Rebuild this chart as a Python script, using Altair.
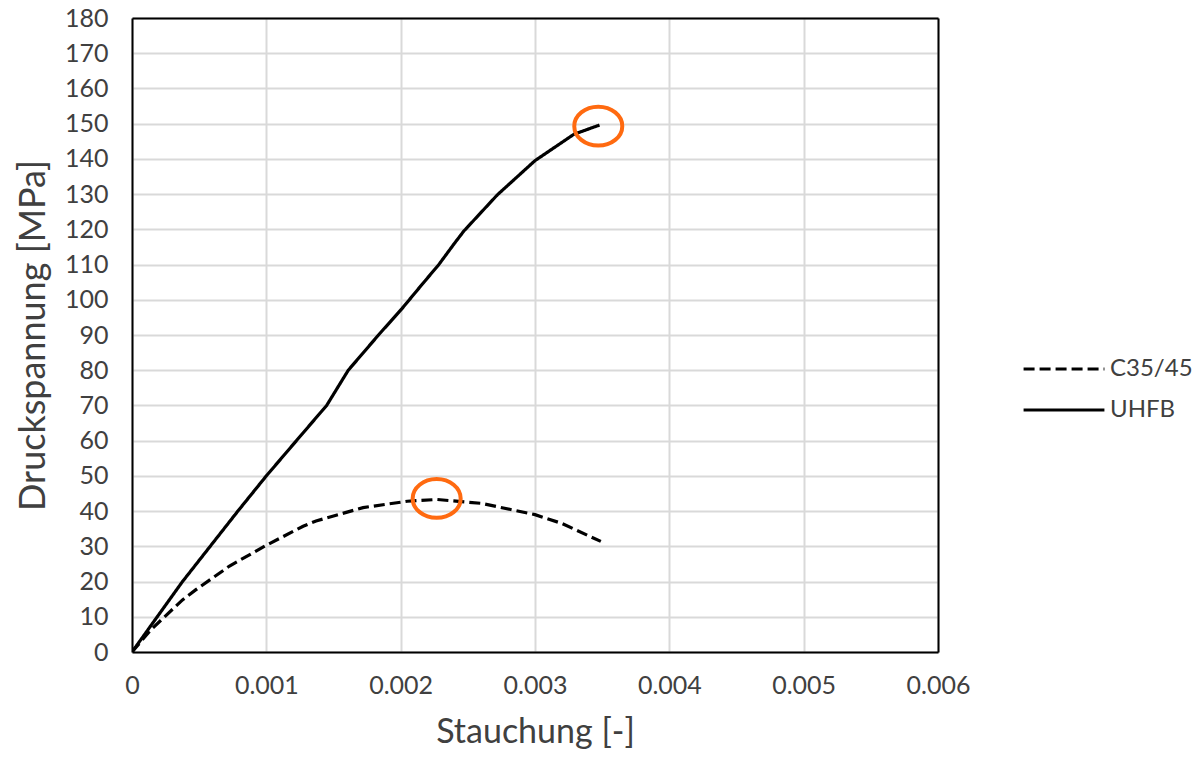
import altair as alt
import pandas as pd

# --- data ---
uhfb_x = [0, 0.000376, 0.000788, 0.001, 0.001224, 0.001449, 0.00161, 0.001835,
          0.00201, 0.002147, 0.002284, 0.0024, 0.00247, 0.00272, 0.003, 0.00329, 0.00348]
uhfb_y = [0, 20, 40, 50, 60, 70, 80, 90,
          97.5, 103.8, 110, 116, 119.5, 129.8, 139.5, 147, 149.6]

c35_x = [0, 0.00014, 0.000376, 0.000476, 0.000726, 0.001, 0.001274, 0.00137,
         0.00172, 0.00205, 0.00227, 0.0026, 0.003, 0.0032, 0.00349]
c35_y = [0, 6.3, 14.8, 17.7, 24.4, 30.3, 35.7, 37.2,
         41.0, 42.8, 43.3, 42.2, 39.0, 36.5, 31.4]

series_names = ["C35/45", "UHFB"]

marker_x = [0.002268, 0.003471]
marker_y = [43.6, 149.3]

x_ticks = [0, 0.001, 0.002, 0.003, 0.004, 0.005, 0.006]
y_ticks = list(range(0, 190, 10))

FONT = "Lato"
TEXT = "#404040"

rows = []
for i, (x, y) in enumerate(zip(c35_x, c35_y)):
    rows.append({"s": series_names[0], "x": x, "y": y, "o": i})
for i, (x, y) in enumerate(zip(uhfb_x, uhfb_y)):
    rows.append({"s": series_names[1], "x": x, "y": y, "o": i})
df = pd.DataFrame(rows)
mk = pd.DataFrame({"x": marker_x, "y": marker_y})

xscale = alt.Scale(domain=[0, 0.006], nice=False)
yscale = alt.Scale(domain=[0, 180], nice=False)

xaxis = alt.Axis(values=x_ticks, title="Stauchung [-]",
                 labelExpr="datum.value == 0 ? '0' : format(datum.value, '.3f')",
                 labelFont=FONT, labelFontSize=25, labelColor=TEXT, labelPadding=21,
                 labelOverlap=False, labelFlush=False,
                 titleFont=FONT, titleFontSize=34, titleFontWeight="normal", titleColor=TEXT,
                 titlePadding=17, tickSize=0, ticks=False,
                 domain=True, domainColor="black", domainWidth=2,
                 gridColor="#d9d9d9", gridWidth=2)
yaxis = alt.Axis(values=y_ticks, title="Druckspannung [MPa]",
                 labelFont=FONT, labelFontSize=25, labelColor=TEXT, labelPadding=24,
                 labelOverlap=False, labelFlush=False,
                 titleFont=FONT, titleFontSize=36, titleFontWeight="normal", titleColor=TEXT,
                 titlePadding=12, tickSize=0, ticks=False,
                 domain=True, domainColor="black", domainWidth=2,
                 gridColor="#d9d9d9", gridWidth=2)

lines = alt.Chart(df).mark_line(strokeWidth=3.2, color="black", clip=True).encode(
    x=alt.X("x:Q", scale=xscale, axis=xaxis),
    y=alt.Y("y:Q", scale=yscale, axis=yaxis),
    order="o:Q",
    strokeDash=alt.StrokeDash(
        "s:N",
        scale=alt.Scale(domain=series_names, range=[[11, 5], [1, 0]]),
        legend=alt.Legend(
            title=None, orient="none", legendX=903, legendY=322,
            symbolType="M -1.47 0 L 1.47 0", symbolSize=3025,
            symbolStrokeColor="black", symbolStrokeWidth=3,
            labelFont=FONT, labelFontSize=24, labelColor=TEXT,
            labelOffset=17, rowPadding=0, padding=0,
        ),
    ),
)

frame_x = alt.Axis(orient="top", labels=False, ticks=False, grid=False, title=None,
                   domain=True, domainColor="black", domainWidth=2)
frame_y = alt.Axis(orient="right", labels=False, ticks=False, grid=False, title=None,
                   domain=True, domainColor="black", domainWidth=2)

ellipse = "M -1 0 A 1 0.81 0 1 1 1 0 A 1 0.81 0 1 1 -1 0 Z"
markers = alt.Chart(mk).mark_point(
    shape=ellipse, size=2304, filled=False, strokeWidth=4, color="#FF6A10", opacity=1
).encode(
    x=alt.X("x:Q", scale=xscale, axis=frame_x),
    y=alt.Y("y:Q", scale=yscale, axis=frame_y),
)

chart = alt.layer(lines, markers).resolve_axis(
    x="independent", y="independent"
).properties(
    width=806, height=634,
    autosize=alt.AutoSizeParams(type="none"),
    padding={"left": 132, "top": 18, "right": 263, "bottom": 108},
    background="white",
).configure_view(stroke=None)

chart.save("out.html", embed_options={"renderer": "svg", "actions": False})
